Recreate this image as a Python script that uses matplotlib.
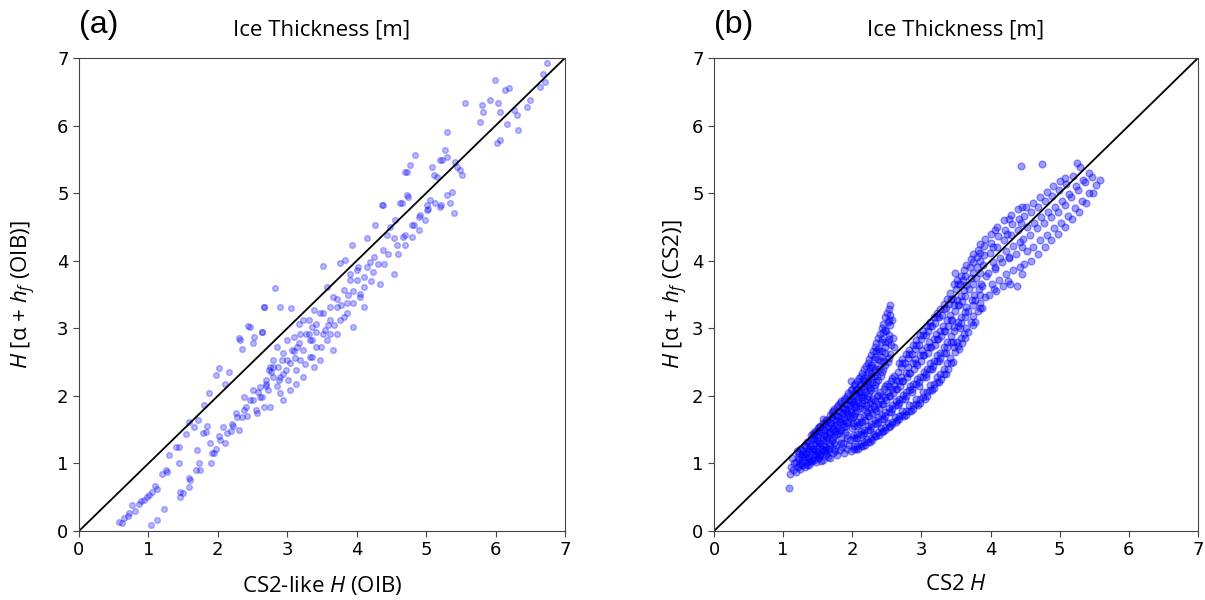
import numpy as np
import matplotlib
matplotlib.use('Agg')
import matplotlib.pyplot as plt

plt.rcParams['mathtext.fontset'] = 'custom'
plt.rcParams['mathtext.rm'] = 'Open Sans'
plt.rcParams['mathtext.it'] = 'Open Sans:italic'

# panel (a): CS2-like H from OIB vs alpha + hf (OIB)
oib_pts = [
    (0.58, 0.14), (0.62, 0.12), (0.65, 0.19), (0.70, 0.22), (0.72, 0.26), (0.77, 0.38), (0.80, 0.30),
    (0.86, 0.40), (0.90, 0.44), (0.94, 0.46), (0.98, 0.50), (1.01, 0.53), (1.05, 0.58), (1.10, 0.67),
    (1.12, 0.62), (1.20, 0.85), (1.25, 0.90), (1.30, 1.13), (1.27, 0.88), (1.44, 1.25), (1.39, 1.25),
    (1.44, 1.01), (1.54, 1.44), (1.58, 1.62), (1.66, 1.54), (1.71, 1.64), (1.83, 1.47), (1.80, 1.86),
    (1.87, 2.04), (1.97, 2.31), (2.02, 2.41), (2.11, 2.18), (2.16, 2.36), (2.31, 2.85), (2.35, 2.70),
    (2.47, 3.02), (2.52, 2.87), (2.64, 2.95), (2.67, 3.32), (3.05, 3.30), (2.66, 3.32), (2.82, 3.60),
    (2.89, 3.32), (2.32, 2.82), (2.51, 2.78), (2.63, 2.95), (2.44, 3.04),
    (1.03, 0.09), (1.13, 0.16), (1.22, 0.33), (1.46, 0.58), (1.45, 0.51), (1.50, 0.56), (1.58, 0.65),
    (1.58, 0.78), (1.60, 0.75), (1.68, 0.90), (1.73, 1.00), (1.74, 0.90), (1.90, 1.00), (1.92, 1.15),
    (1.94, 1.15), (1.97, 1.22), (1.70, 1.20), (1.79, 1.45), (1.84, 1.55), (1.89, 1.30), (2.02, 1.40),
    (2.03, 1.35), (2.07, 1.54), (2.11, 1.30), (2.13, 1.45), (2.21, 1.59), (2.22, 1.55), (2.26, 1.74),
    (2.27, 1.69), (2.31, 1.49), (2.35, 1.69), (2.37, 1.79), (2.37, 1.99), (2.40, 1.84), (2.46, 1.94),
    (2.50, 1.94), (2.51, 2.08), (2.55, 1.79), (2.56, 1.74), (2.61, 1.99), (2.61, 2.13), (2.64, 1.99),
    (2.66, 1.84), (2.69, 2.14), (2.70, 2.18), (2.70, 2.23), (2.74, 2.38), (2.75, 1.84), (2.75, 2.43),
    (2.77, 2.36), (2.79, 2.43), (2.80, 2.28), (2.80, 2.53), (2.85, 2.14), (2.85, 2.72), (2.88, 2.24),
    (2.89, 2.04), (2.90, 2.28), (2.93, 2.53), (2.94, 1.94), (2.94, 2.33), (2.94, 2.63), (2.98, 2.38),
    (2.99, 2.53), (2.99, 2.82), (3.04, 2.08), (3.04, 2.48), (3.07, 2.68), (3.09, 2.66), (3.09, 2.87),
    (3.13, 2.18), (3.13, 2.38), (3.14, 2.72), (3.17, 2.78), (3.17, 3.07), (3.18, 2.53), (3.18, 2.92),
    (3.23, 2.28), (3.23, 2.68), (3.23, 3.12), (3.27, 2.92), (3.31, 3.12), (3.33, 2.58), (3.33, 2.82),
    (3.31, 2.92), (3.35, 3.02), (3.36, 2.58), (3.36, 2.83), (3.38, 2.43), (3.38, 3.27), (3.42, 2.73),
    (3.42, 3.07), (3.47, 2.53), (3.47, 3.22), (3.52, 2.92), (3.54, 2.97), (3.52, 3.22), (3.52, 3.92),
    (3.57, 2.82), (3.57, 3.61), (3.62, 2.92), (3.62, 3.12), (3.62, 3.32), (3.66, 2.68), (3.66, 3.47),
    (3.71, 2.92), (3.71, 3.32), (3.71, 3.44), (3.76, 3.12), (3.76, 3.96), (3.81, 3.17), (3.81, 3.56),
    (3.83, 4.01), (3.86, 3.22), (3.86, 3.37), (3.90, 3.81), (3.91, 3.71), (3.93, 4.23), (3.95, 3.02),
    (3.95, 3.37), (4.00, 3.71), (4.00, 3.86), (4.05, 3.47), (4.05, 3.51), (4.10, 3.32), (4.10, 3.61),
    (4.10, 3.76), (4.15, 4.33), (4.19, 3.98), (4.24, 3.84), (4.27, 4.53), (4.34, 3.66), (4.36, 4.82),
    (4.38, 4.16), (4.38, 4.82), (4.43, 4.38), (4.53, 3.81), (4.53, 4.33), (4.58, 4.23), (4.63, 4.85),
    (4.65, 4.85), (4.67, 4.35), (4.70, 4.23), (4.70, 4.38), (4.70, 5.31), (4.72, 5.32), (4.72, 4.97),
    (4.74, 4.95), (4.77, 5.41), (4.79, 4.53), (4.80, 4.35), (4.82, 4.53), (4.84, 5.56), (4.89, 4.45),
    (4.89, 4.65), (4.91, 4.67), (4.99, 4.60), (5.01, 4.75), (5.01, 4.82), (5.03, 4.77), (5.06, 4.90),
    (5.08, 5.39), (5.11, 5.27), (5.13, 4.85), (5.15, 5.24), (5.20, 4.80), (5.22, 4.82), (5.20, 5.49),
    (5.23, 5.49), (5.27, 5.64), (5.30, 4.97), (5.30, 5.54), (5.30, 5.91), (5.35, 4.85), (5.37, 5.02),
    (5.40, 4.70), (5.42, 5.46), (5.44, 5.39), (5.49, 5.34), (5.51, 5.27), (5.56, 6.34), (5.78, 6.06),
    (5.80, 6.30), (5.82, 6.20), (5.92, 6.38), (5.99, 6.67), (6.02, 5.74), (6.04, 6.33), (6.07, 5.79),
    (6.07, 6.20), (6.14, 6.52), (6.16, 6.03), (6.19, 6.55), (6.26, 6.23), (6.31, 6.15), (6.33, 5.94),
    (6.45, 6.28), (6.50, 6.38), (6.64, 6.57), (6.69, 6.77), (6.71, 6.65), (6.74, 6.92),
    (3.95, 3.55), (4.02, 3.90), (4.20, 3.70), (4.25, 4.05), (4.30, 3.95), (4.45, 4.10), (4.48, 4.50),
    (4.55, 4.60), (4.60, 4.10), (4.40, 3.95), (4.15, 3.90),
    (2.58, 2.05), (2.72, 2.08), (2.86, 2.42), (3.01, 2.24), (3.11, 2.56), (3.26, 2.47), (3.41, 2.95),
    (3.49, 2.72), (3.58, 3.05), (3.68, 3.05), (3.78, 3.35), (3.88, 3.50), (2.42, 1.70), (2.19, 1.48),
]

# panel (b): CS2 H vs alpha + hf (CS2), upper (near 1:1) branch
cs2_upper = [
    (1.09, 0.63), (1.10, 0.85), (1.12, 0.95), (1.14, 0.90), (1.16, 1.00), (1.13, 1.08),
    (1.19, 0.88), (1.21, 0.95), (1.18, 1.02), (1.22, 1.10), (1.20, 1.18),
    (1.24, 0.92), (1.26, 1.00), (1.23, 1.06), (1.27, 1.14), (1.25, 1.22),
    (1.31, 0.95), (1.28, 1.03), (1.32, 1.10), (1.29, 1.18), (1.31, 1.27),
    (1.34, 0.98), (1.36, 1.08), (1.33, 1.15), (1.37, 1.22), (1.35, 1.32),
    (1.41, 1.02), (1.38, 1.10), (1.42, 1.18), (1.39, 1.26), (1.41, 1.35), (1.40, 1.42),
    (1.44, 1.05), (1.46, 1.14), (1.43, 1.22), (1.47, 1.30), (1.45, 1.38), (1.44, 1.46),
    (1.51, 1.10), (1.48, 1.18), (1.52, 1.26), (1.49, 1.34), (1.51, 1.42), (1.50, 1.52),
    (1.54, 1.13), (1.56, 1.22), (1.53, 1.30), (1.57, 1.38), (1.55, 1.46), (1.54, 1.56),
    (1.61, 1.18), (1.58, 1.26), (1.62, 1.35), (1.59, 1.42), (1.61, 1.50), (1.60, 1.60), (1.58, 1.66),
    (1.64, 1.22), (1.66, 1.30), (1.63, 1.38), (1.67, 1.46), (1.65, 1.55), (1.64, 1.64),
    (1.71, 1.35), (1.68, 1.44), (1.72, 1.52), (1.69, 1.60), (1.71, 1.68), (1.70, 1.76),
    (1.74, 1.40), (1.76, 1.48), (1.73, 1.56), (1.77, 1.64), (1.75, 1.72), (1.74, 1.80),
    (1.81, 1.45), (1.78, 1.53), (1.82, 1.61), (1.79, 1.70), (1.81, 1.78), (1.80, 1.86),
    (1.84, 1.50), (1.86, 1.58), (1.83, 1.66), (1.87, 1.74), (1.85, 1.82), (1.84, 1.92),
    (1.91, 1.56), (1.88, 1.64), (1.92, 1.72), (1.89, 1.80), (1.91, 1.88), (1.90, 1.97),
    (1.94, 1.62), (1.96, 1.70), (1.93, 1.78), (1.97, 1.86), (1.95, 1.94), (1.94, 2.04),
    (2.01, 1.68), (1.98, 1.76), (2.02, 1.84), (1.99, 1.92), (2.01, 2.00), (2.00, 2.10), (1.98, 2.22),
    (2.04, 1.75), (2.06, 1.84), (2.03, 1.92), (2.07, 2.00), (2.05, 2.08), (2.04, 2.18),
    (2.11, 1.82), (2.08, 1.90), (2.12, 1.98), (2.09, 2.06), (2.11, 2.16), (2.10, 2.26),
    (2.14, 1.90), (2.16, 1.98), (2.13, 2.06), (2.17, 2.14), (2.15, 2.24), (2.14, 2.34),
    (2.21, 1.96), (2.18, 2.05), (2.22, 2.14), (2.19, 2.22), (2.21, 2.32), (2.20, 2.44),
    (2.24, 2.04), (2.26, 2.12), (2.23, 2.22), (2.27, 2.32), (2.25, 2.42), (2.24, 2.54),
    (2.31, 2.12), (2.28, 2.20), (2.32, 2.30), (2.29, 2.42), (2.31, 2.54), (2.30, 2.66),
    (2.34, 2.20), (2.36, 2.30), (2.33, 2.40), (2.37, 2.54), (2.35, 2.66), (2.34, 2.78),
    (2.41, 2.30), (2.38, 2.40), (2.42, 2.52), (2.39, 2.66), (2.41, 2.80), (2.40, 2.92),
    (2.44, 2.40), (2.46, 2.52), (2.43, 2.66), (2.47, 2.80), (2.45, 2.94), (2.44, 3.06),
    (2.51, 2.50), (2.48, 2.64), (2.52, 2.80), (2.49, 2.96), (2.51, 3.10), (2.50, 3.22),
    (2.54, 2.62), (2.56, 2.76), (2.53, 2.90), (2.55, 3.05), (2.54, 3.20), (2.55, 3.34),
    (2.61, 2.72), (2.59, 2.85), (2.57, 3.12),
    (1.225, 0.98), (1.225, 1.14), (1.275, 0.98), (1.275, 1.10), (1.275, 1.20),
    (1.325, 1.00), (1.325, 1.14), (1.325, 1.26), (1.375, 1.04), (1.375, 1.18), (1.375, 1.30),
    (1.425, 1.08), (1.425, 1.22), (1.425, 1.36), (1.425, 1.44), (1.475, 1.12), (1.475, 1.26),
    (1.475, 1.40), (1.475, 1.48), (1.525, 1.16), (1.525, 1.30), (1.525, 1.46), (1.525, 1.54),
    (1.575, 1.20), (1.575, 1.34), (1.575, 1.50), (1.575, 1.60), (1.625, 1.24), (1.625, 1.40),
    (1.625, 1.54), (1.625, 1.64), (1.675, 1.28), (1.675, 1.46), (1.675, 1.60), (1.675, 1.72),
    (1.725, 1.38), (1.725, 1.50), (1.725, 1.64), (1.725, 1.78), (1.775, 1.44), (1.775, 1.58),
    (1.775, 1.70), (1.775, 1.84), (1.825, 1.48), (1.825, 1.62), (1.825, 1.76), (1.825, 1.90),
    (1.875, 1.54), (1.875, 1.68), (1.875, 1.82), (1.875, 1.94), (1.925, 1.60), (1.925, 1.74),
    (1.925, 1.88), (1.925, 2.00), (1.975, 1.66), (1.975, 1.80), (1.975, 1.94), (1.975, 2.08),
    (2.025, 1.72), (2.025, 1.88), (2.025, 2.04), (2.025, 2.16), (2.075, 1.78), (2.075, 1.94),
    (2.075, 2.10), (2.075, 2.22), (2.125, 1.86), (2.125, 2.02), (2.125, 2.18), (2.125, 2.30),
    (2.175, 1.94), (2.175, 2.10), (2.175, 2.26), (2.175, 2.40), (2.225, 2.00), (2.225, 2.18),
    (2.225, 2.36), (2.225, 2.48), (2.275, 2.08), (2.275, 2.26), (2.275, 2.46), (2.275, 2.60),
    (2.325, 2.16), (2.325, 2.36), (2.325, 2.58), (2.325, 2.72), (2.375, 2.24), (2.375, 2.46),
    (2.375, 2.70), (2.375, 2.86), (2.425, 2.36), (2.425, 2.58), (2.425, 2.84), (2.425, 3.00),
    (2.475, 2.46), (2.475, 2.72), (2.475, 2.98), (2.475, 3.16), (2.525, 2.56), (2.525, 2.84),
    (2.525, 3.12), (2.525, 3.28),
]

# panel (b): lower (thicker CS2) branch
cs2_lower = [
    (1.38, 0.98), (1.42, 1.05), (1.48, 1.02), (1.52, 1.08), (1.50, 1.15),
    (1.58, 1.05), (1.62, 1.12), (1.60, 1.20), (1.68, 1.08), (1.72, 1.15), (1.66, 1.22), (1.73, 1.30),
    (1.78, 1.12), (1.82, 1.20), (1.77, 1.28), (1.83, 1.36),
    (1.88, 1.15), (1.92, 1.22), (1.87, 1.30), (1.93, 1.38), (1.90, 1.46),
    (1.98, 1.18), (2.02, 1.26), (1.97, 1.34), (2.03, 1.42), (1.99, 1.52), (2.01, 1.60),
    (2.05, 1.22), (2.06, 1.38), (2.07, 1.55),
    (2.08, 1.22), (2.12, 1.30), (2.07, 1.38), (2.13, 1.48), (2.09, 1.58), (2.11, 1.68),
    (2.15, 1.26), (2.16, 1.42), (2.14, 1.62),
    (2.18, 1.28), (2.22, 1.36), (2.17, 1.45), (2.23, 1.55), (2.19, 1.65), (2.21, 1.76), (2.20, 1.86),
    (2.25, 1.32), (2.26, 1.50), (2.24, 1.70), (2.26, 1.90),
    (2.28, 1.35), (2.32, 1.44), (2.27, 1.54), (2.33, 1.64), (2.29, 1.74), (2.31, 1.85), (2.30, 1.96),
    (2.35, 1.40), (2.36, 1.58), (2.34, 1.78), (2.36, 2.00),
    (2.38, 1.42), (2.42, 1.52), (2.37, 1.62), (2.43, 1.72), (2.39, 1.82), (2.41, 1.94), (2.40, 2.05),
    (2.45, 1.48), (2.46, 1.66), (2.44, 1.88), (2.46, 2.10),
    (2.48, 1.50), (2.52, 1.60), (2.47, 1.70), (2.53, 1.82), (2.49, 1.94), (2.51, 2.06), (2.50, 2.18),
    (2.55, 1.56), (2.56, 1.76), (2.54, 2.00), (2.56, 2.22),
    (2.58, 1.58), (2.62, 1.68), (2.57, 1.80), (2.63, 1.92), (2.59, 2.04), (2.61, 2.16), (2.60, 2.30),
    (2.65, 1.64), (2.66, 1.86), (2.64, 2.10), (2.66, 2.36),
    (2.68, 1.66), (2.72, 1.78), (2.67, 1.90), (2.73, 2.02), (2.69, 2.15), (2.71, 2.28), (2.70, 2.42), (2.72, 2.55),
    (2.75, 1.70), (2.76, 1.95), (2.74, 2.22), (2.76, 2.48),
    (2.78, 1.72), (2.82, 1.86), (2.77, 2.00), (2.83, 2.14), (2.79, 2.28), (2.81, 2.42), (2.80, 2.56), (2.82, 2.68),
    (2.85, 1.78), (2.86, 2.05), (2.84, 2.34), (2.86, 2.62),
    (2.88, 1.80), (2.92, 1.95), (2.87, 2.10), (2.93, 2.25), (2.89, 2.40), (2.91, 2.55), (2.90, 2.70), (2.92, 2.82),
    (2.95, 1.86), (2.96, 2.15), (2.94, 2.46), (2.96, 2.76),
    (2.98, 1.90), (3.02, 2.05), (2.97, 2.20), (3.03, 2.36), (2.99, 2.52), (3.01, 2.68), (3.00, 2.84), (3.02, 2.96),
    (3.05, 1.96), (3.06, 2.28), (3.04, 2.60), (3.06, 2.90),
    (3.08, 2.00), (3.12, 2.16), (3.07, 2.32), (3.13, 2.48), (3.09, 2.64), (3.11, 2.80), (3.10, 2.96), (3.12, 3.10),
    (3.15, 2.08), (3.16, 2.40), (3.14, 2.72), (3.16, 3.04),
    (3.18, 2.12), (3.22, 2.28), (3.17, 2.44), (3.23, 2.60), (3.19, 2.76), (3.21, 2.92), (3.20, 3.08), (3.22, 3.22),
    (3.25, 2.20), (3.26, 2.52), (3.24, 2.84), (3.26, 3.16),
    (3.28, 2.25), (3.32, 2.40), (3.27, 2.56), (3.33, 2.72), (3.29, 2.88), (3.31, 3.04), (3.30, 3.20), (3.32, 3.36),
    (3.35, 2.32), (3.36, 2.64), (3.34, 2.96), (3.36, 3.30),
    (3.38, 2.40), (3.42, 2.56), (3.37, 2.72), (3.43, 2.88), (3.39, 3.04), (3.41, 3.20), (3.40, 3.36), (3.42, 3.52),
    (3.45, 2.50), (3.46, 2.80), (3.44, 3.12), (3.46, 3.44),
    (3.48, 2.65), (3.52, 2.80), (3.47, 2.96), (3.53, 3.10), (3.49, 3.26), (3.51, 3.42), (3.50, 3.58), (3.52, 3.72), (3.49, 3.82),
    (3.55, 2.70), (3.56, 3.00), (3.54, 3.34), (3.56, 3.66),
    (3.58, 2.78), (3.62, 2.92), (3.57, 3.08), (3.63, 3.24), (3.59, 3.40), (3.61, 3.56), (3.60, 3.72), (3.62, 3.86),
    (3.68, 2.95), (3.72, 3.10), (3.67, 3.26), (3.73, 3.42), (3.69, 3.58), (3.71, 3.74), (3.70, 3.90), (3.72, 4.02),
    (3.75, 3.05), (3.76, 3.50), (3.74, 3.82),
    (3.78, 3.10), (3.82, 3.26), (3.77, 3.42), (3.83, 3.58), (3.79, 3.74), (3.81, 3.90), (3.80, 4.05), (3.82, 4.16),
    (3.85, 3.30), (3.86, 3.66), (3.84, 4.00),
    (3.88, 3.30), (3.92, 3.46), (3.87, 3.62), (3.93, 3.78), (3.89, 3.94), (3.91, 4.08), (3.90, 4.22), (3.92, 4.32),
    (3.98, 3.50), (4.02, 3.66), (3.97, 3.82), (4.03, 3.98), (3.99, 4.12), (4.01, 4.26), (4.00, 4.40),
    (4.05, 3.58), (4.06, 3.90), (4.04, 4.20), (4.06, 4.46),
    (4.08, 3.55), (4.12, 3.72), (4.07, 3.88), (4.13, 4.04), (4.09, 4.20), (4.11, 4.36), (4.10, 4.50),
    (4.18, 3.62), (4.22, 3.80), (4.17, 3.98), (4.23, 4.14), (4.19, 4.30), (4.21, 4.46), (4.20, 4.60),
    (4.25, 3.70), (4.26, 4.06), (4.24, 4.40), (4.26, 4.62),
    (4.28, 3.66), (4.32, 3.86), (4.27, 4.04), (4.33, 4.22), (4.29, 4.38), (4.31, 4.54), (4.30, 4.68),
    (4.38, 3.62), (4.42, 3.90), (4.37, 4.10), (4.43, 4.28), (4.39, 4.46), (4.41, 4.62), (4.40, 4.76),
    (4.45, 3.80), (4.46, 4.20), (4.44, 4.56), (4.46, 4.80),
    (4.48, 3.95), (4.52, 4.14), (4.47, 4.32), (4.53, 4.50), (4.49, 4.66), (4.51, 4.80),
    (4.58, 4.00), (4.62, 4.20), (4.57, 4.38), (4.63, 4.56), (4.59, 4.72), (4.61, 4.86),
    (4.68, 4.10), (4.72, 4.30), (4.67, 4.48), (4.73, 4.64), (4.69, 4.80), (4.71, 4.94),
    (4.78, 4.20), (4.82, 4.38), (4.77, 4.56), (4.83, 4.72), (4.79, 4.88), (4.81, 5.02),
    (4.88, 4.30), (4.92, 4.48), (4.87, 4.64), (4.93, 4.80), (4.89, 4.96), (4.91, 5.10),
    (4.98, 4.40), (5.02, 4.56), (4.97, 4.72), (5.03, 4.88), (4.99, 5.04), (5.01, 5.18),
    (5.08, 4.50), (5.12, 4.66), (5.07, 4.82), (5.13, 4.98), (5.09, 5.14),
    (5.18, 4.62), (5.22, 4.78), (5.17, 4.94), (5.23, 5.10), (5.19, 5.26),
    (5.28, 4.72), (5.32, 4.88), (5.27, 5.04), (5.33, 5.20), (5.29, 5.38),
    (5.38, 4.85), (5.42, 5.00), (5.37, 5.16), (5.43, 5.30),
    (5.48, 5.00), (5.52, 5.12), (5.47, 5.24), (5.58, 5.20),
    (4.44, 5.40), (4.74, 5.43), (5.25, 5.45), (5.08, 5.22),
]

# extra points where the lower branch is densest
cs2_lower_core = [
    (1.53, 1.12), (1.55, 1.04), (1.63, 1.16), (1.65, 1.10), (1.73, 1.22), (1.75, 1.18),
    (1.83, 1.30), (1.85, 1.24), (1.93, 1.42), (1.95, 1.28),
    (2.025, 1.22), (2.025, 1.38), (2.025, 1.56), (2.075, 1.26), (2.075, 1.44), (2.075, 1.62),
    (2.125, 1.26), (2.125, 1.44), (2.125, 1.62), (2.175, 1.32), (2.175, 1.50), (2.175, 1.70),
    (2.175, 1.80), (2.225, 1.32), (2.225, 1.50), (2.225, 1.70), (2.225, 1.82), (2.275, 1.38),
    (2.275, 1.58), (2.275, 1.80), (2.275, 1.92), (2.325, 1.40), (2.325, 1.60), (2.325, 1.80),
    (2.325, 1.92), (2.375, 1.46), (2.375, 1.68), (2.375, 1.88), (2.375, 2.02), (2.425, 1.46),
    (2.425, 1.66), (2.425, 1.88), (2.425, 2.00), (2.475, 1.54), (2.475, 1.76), (2.475, 1.98),
    (2.475, 2.14), (2.525, 1.54), (2.525, 1.76), (2.525, 2.00), (2.525, 2.14), (2.575, 1.62),
    (2.575, 1.86), (2.575, 2.10), (2.575, 2.26), (2.625, 1.62), (2.625, 1.86), (2.625, 2.10),
    (2.625, 2.24), (2.675, 1.70), (2.675, 1.96), (2.675, 2.22), (2.675, 2.48), (2.725, 1.72),
    (2.725, 1.96), (2.725, 2.22), (2.725, 2.48), (2.775, 1.78), (2.775, 2.06), (2.775, 2.34),
    (2.775, 2.62), (2.825, 1.78), (2.825, 2.08), (2.825, 2.34), (2.825, 2.62), (2.875, 1.86),
    (2.875, 2.18), (2.875, 2.48), (2.875, 2.76), (2.925, 1.88), (2.925, 2.18), (2.925, 2.48),
    (2.925, 2.76), (2.975, 1.96), (2.975, 2.28), (2.975, 2.60), (2.975, 2.90), (3.025, 1.98),
    (3.025, 2.28), (3.025, 2.60), (3.025, 2.90), (3.075, 2.06), (3.075, 2.40), (3.075, 2.72),
    (3.075, 3.04), (3.125, 2.08), (3.125, 2.40), (3.125, 2.72), (3.125, 3.04), (3.175, 2.18),
    (3.175, 2.52), (3.175, 2.84), (3.175, 3.16), (3.225, 2.20), (3.225, 2.52), (3.225, 2.84),
    (3.225, 3.16), (3.275, 2.32), (3.275, 2.64), (3.275, 2.96), (3.275, 3.28), (3.325, 2.32),
    (3.325, 2.64), (3.325, 2.96), (3.325, 3.28), (3.375, 2.48), (3.375, 2.80), (3.375, 3.12),
    (3.375, 3.44), (3.425, 2.48), (3.425, 2.80), (3.425, 3.12), (3.425, 3.44), (3.475, 2.72),
    (3.475, 3.02), (3.475, 3.34), (3.475, 3.66), (3.525, 2.74), (3.525, 3.04), (3.525, 3.34),
    (3.525, 3.66), (3.575, 2.85), (3.575, 3.16), (3.575, 3.48), (3.575, 3.78), (3.625, 2.86),
    (3.625, 3.16), (3.625, 3.48), (3.625, 3.78), (3.65, 3.00), (3.65, 3.32), (3.65, 3.64),
    (3.65, 3.94), (3.75, 3.18), (3.75, 3.34), (3.75, 3.66), (3.75, 3.98), (3.75, 4.10),
    (3.85, 3.38), (3.85, 3.50), (3.85, 3.82), (3.85, 4.12), (3.85, 4.24),
]

ticks = [0, 1, 2, 3, 4, 5, 6, 7]

oib = np.array(oib_pts)
cs2 = np.array(cs2_upper + cs2_lower + cs2_lower_core)

fig = plt.figure(figsize=(12.05, 6.0), dpi=100)
ax_a = fig.add_axes((79/1205, 69/600, 486/1205, 473/600))
ax_b = fig.add_axes((714/1205, 69/600, 484/1205, 473/600))

ax_a.scatter(oib[:, 0], oib[:, 1], s=17, color='b', alpha=0.28)
ax_b.scatter(cs2[:, 0], cs2[:, 1], s=24, color='b', alpha=0.38)

for ax, tag, xl, yl in [
        (ax_a, '(a)', 'CS2-like $H$ (OIB)', '$H$ [α + $h_f$ (OIB)]'),
        (ax_b, '(b)', 'CS2 $H$', '$H$ [α + $h_f$ (CS2)]')]:
    ax.plot([0, 7], [0, 7], color='k', lw=1.3)
    ax.set_xlim(0, 7)
    ax.set_ylim(0, 7)
    ax.set_xticks(ticks)
    ax.set_yticks(ticks)
    ax.tick_params(labelsize=13, length=4, color='#444444')
    for sp in ax.spines.values():
        sp.set_color('#444444')
    ax.text(0.5, 1.059, 'Ice Thickness [m]', transform=ax.transAxes,
            ha='center', va='center', fontsize=16, family='Open Sans')
    ax.text(0.0, 1.07, tag, transform=ax.transAxes, ha='left', va='center',
            fontsize=23, family='Liberation Sans')
    ax.set_xlabel(xl, fontsize=16, family='Open Sans')
    ax.xaxis.set_label_coords(0.5, -(574 - 531)/473)
    ax.set_ylabel(yl, fontsize=16, family='Open Sans')

ax_a.yaxis.set_label_coords(-(79 - 38)/486, 0.5)
ax_b.yaxis.set_label_coords(-(714 - 690)/484, 0.5)

fig.savefig('out.png', dpi=100)
